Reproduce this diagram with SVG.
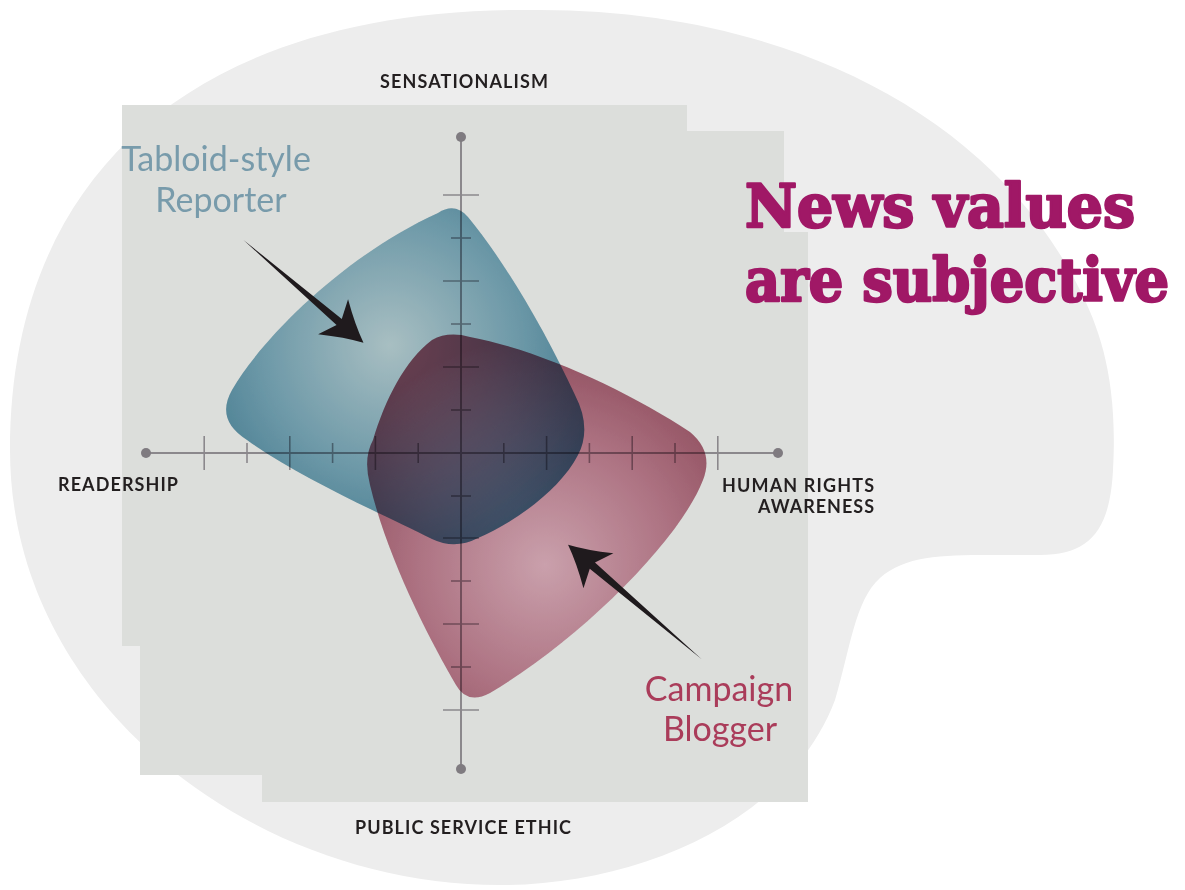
<svg xmlns="http://www.w3.org/2000/svg" width="1185" height="890" viewBox="0 0 1185 890">
<defs>
<style>
.axis{stroke:#8b888c;stroke-width:2;fill:none}
.tick{stroke:#8b888c;stroke-width:1.6}
.dot{fill:#7f7b80}
.lbl{font-family:Lato,"Open Sans","Liberation Sans",sans-serif;font-weight:700;font-size:18px;fill:#231f20}
.who{font-family:Lato,"Open Sans","Liberation Sans",sans-serif;font-weight:400;font-size:34px}
.title{font-family:"DejaVu Serif","Liberation Serif",serif;font-weight:900;font-size:60px;fill:#a01866;stroke:#a01866;stroke-width:2.6;stroke-linejoin:round}
.arrow{fill:#1f1a1d}
.shape{mix-blend-mode:multiply}
</style>
<radialGradient id="gBlue" gradientUnits="userSpaceOnUse" cx="390" cy="345" r="230">
<stop offset="0" stop-color="#c3dbe2"/>
<stop offset="0.55" stop-color="#7fb0c4"/>
<stop offset="1" stop-color="#4586a1"/>
</radialGradient>
<radialGradient id="gRed" gradientUnits="userSpaceOnUse" cx="545" cy="565" r="230">
<stop offset="0" stop-color="#eab8c8"/>
<stop offset="0.55" stop-color="#c98498"/>
<stop offset="1" stop-color="#a4566a"/>
</radialGradient>
<filter id="grain" x="0" y="0" width="100%" height="100%">
<feTurbulence type="fractalNoise" baseFrequency="0.85" numOctaves="2" seed="4" result="n"/>
<feColorMatrix in="n" type="matrix" values="0 0 0 0 0.5 0 0 0 0 0.5 0 0 0 0 0.5 0 0 0 1.2 -0.45" result="g"/>
<feComposite in="g" in2="SourceGraphic" operator="in" result="gc"/>
<feBlend in="gc" in2="SourceGraphic" mode="overlay"/>
</filter>
</defs>

<g id="background">
<path d="M 540,10 C 200,5 10,170 10,450 C 10,700 250,885 500,885 C 640,885 790,820 835,700 C 850,650 855,600 880,578 C 905,556 940,555 990,555 L 1040,555 C 1090,555 1110,530 1113,470 C 1118,380 1100,330 1080,290 C 990,110 780,10 540,10 Z" fill="#ededed"/>
<path d="M 122,105 L 687,105 L 687,131 L 784,131 L 784,232 L 808,232 L 808,802 L 262,802 L 262,775 L 140,775 L 140,646 L 122,646 Z" fill="#dcdedb"/>
</g>

<g id="axes">
<line class="axis" x1="146" y1="453" x2="778" y2="453"/>
<line class="axis" x1="461" y1="137" x2="461" y2="769"/>
<circle class="dot" cx="146" cy="453" r="5"/>
<circle class="dot" cx="778" cy="453" r="5"/>
<circle class="dot" cx="461" cy="137" r="5"/>
<circle class="dot" cx="461" cy="769" r="5"/>
<g class="tick">
<line x1="204.2" y1="436" x2="204.2" y2="470"/>
<line x1="247" y1="443" x2="247" y2="463"/>
<line x1="289.8" y1="436" x2="289.8" y2="470"/>
<line x1="332.6" y1="443" x2="332.6" y2="463"/>
<line x1="375.4" y1="436" x2="375.4" y2="470"/>
<line x1="418.2" y1="443" x2="418.2" y2="463"/>
<line x1="503.8" y1="443" x2="503.8" y2="463"/>
<line x1="546.6" y1="436" x2="546.6" y2="470"/>
<line x1="589.4" y1="443" x2="589.4" y2="463"/>
<line x1="632.2" y1="436" x2="632.2" y2="470"/>
<line x1="675" y1="443" x2="675" y2="463"/>
<line x1="717.8" y1="436" x2="717.8" y2="470"/>
<line x1="443" y1="195" x2="479" y2="195"/>
<line x1="451" y1="238" x2="471" y2="238"/>
<line x1="443" y1="281" x2="479" y2="281"/>
<line x1="451" y1="324" x2="471" y2="324"/>
<line x1="443" y1="367" x2="479" y2="367"/>
<line x1="451" y1="410" x2="471" y2="410"/>
<line x1="451" y1="496" x2="471" y2="496"/>
<line x1="443" y1="538" x2="479" y2="538"/>
<line x1="451" y1="581" x2="471" y2="581"/>
<line x1="443" y1="624" x2="479" y2="624"/>
<line x1="451" y1="667" x2="471" y2="667"/>
<line x1="443" y1="710" x2="479" y2="710"/>
</g>
<text class="lbl" x="380" y="88" textLength="168" lengthAdjust="spacing">SENSATIONALISM</text>
<text class="lbl" x="58" y="491" textLength="120" lengthAdjust="spacing">READERSHIP</text>
<text class="lbl" x="722" y="492" textLength="152" lengthAdjust="spacing">HUMAN RIGHTS</text>
<text class="lbl" x="758" y="513" textLength="116" lengthAdjust="spacing">AWARENESS</text>
<text class="lbl" x="355" y="834" textLength="216" lengthAdjust="spacing">PUBLIC SERVICE ETHIC</text>
</g>

<g id="tabloid-reporter">
<path class="shape" filter="url(#grain)" fill="url(#gBlue)" d="M 438,213 Q 455,202 468,217 C 505,262 545,330 575,395 Q 592,428 578,455 C 560,490 515,522 478,538 Q 455,550 432,539 C 380,513 300,478 247,440 Q 215,420 232,390 C 262,338 345,255 438,213 Z"/>
<text class="who" x="216" y="171" text-anchor="middle" fill="#789bab">Tabloid-style</text>
<text class="who" x="221" y="212" text-anchor="middle" fill="#789bab">Reporter</text>
</g>

<g id="campaign-blogger">
<path class="shape" filter="url(#grain)" fill="url(#gRed)" d="M 432,340 Q 448,331 470,337 C 540,350 630,392 690,432 Q 714,452 703,480 C 680,540 580,640 490,693 Q 467,705 456,685 C 430,640 388,560 370,485 Q 363,458 373,440 C 385,400 405,360 432,340 Z"/>
<text class="who" x="719" y="701" text-anchor="middle" fill="#aa3c5a">Campaign</text>
<text class="who" x="720" y="741" text-anchor="middle" fill="#aa3c5a">Blogger</text>
</g>

<g id="title">
<text class="title" x="745" y="227" textLength="390" lengthAdjust="spacingAndGlyphs">News values</text>
<text class="title" x="745" y="301" textLength="424" lengthAdjust="spacingAndGlyphs">are subjective</text>
</g>

<g id="connectors">
<path class="arrow" transform="translate(243.5,240) rotate(40.6)" d="M0,0 L126,-4 L118,-23 Q140,-8 158,0 Q140,8 118,23 L126,4 Z"/>
<path class="arrow" transform="translate(701.7,659.3) rotate(220.6)" d="M0,0 L144,-4 L136,-23 Q158,-8 176,0 Q158,8 136,23 L144,4 Z"/>
</g>
</svg>
